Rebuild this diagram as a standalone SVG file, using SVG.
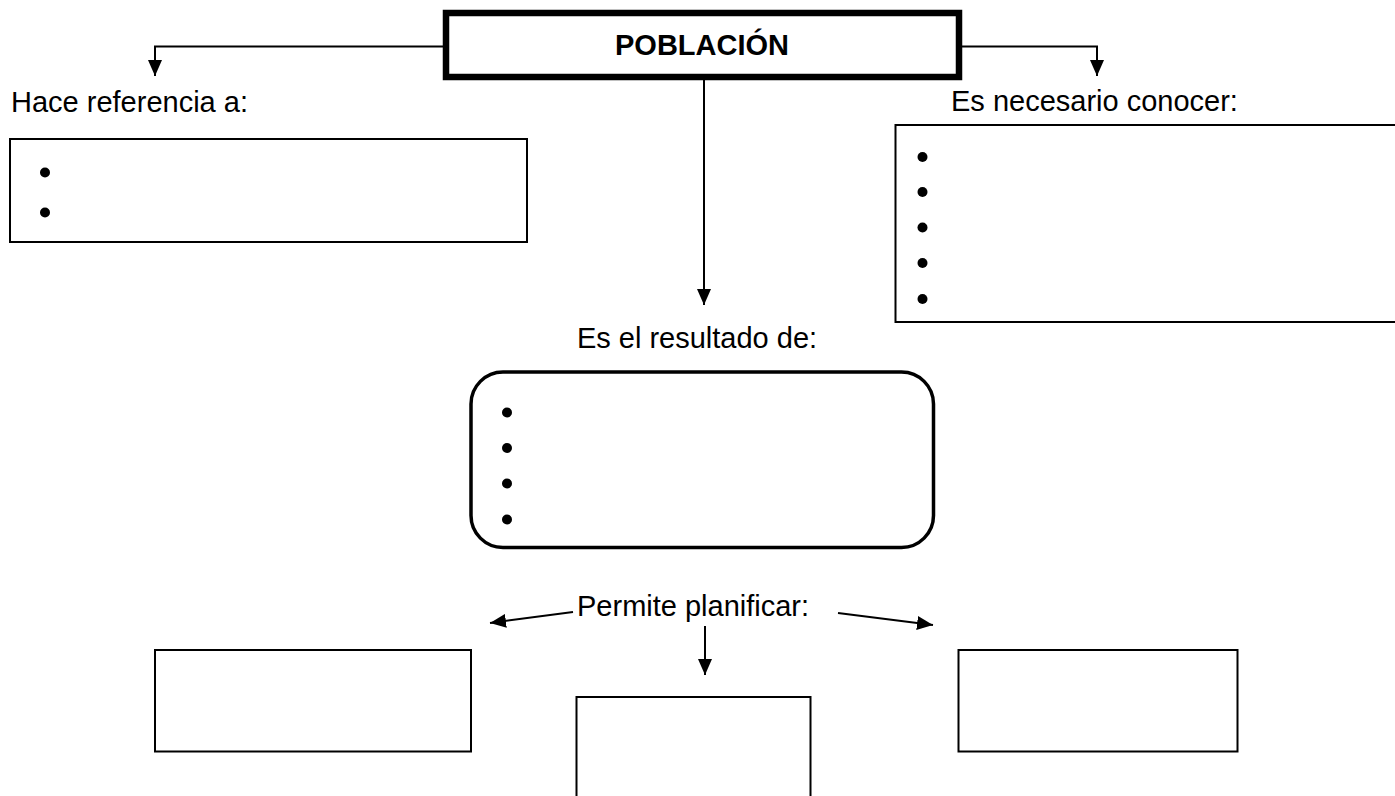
<svg xmlns="http://www.w3.org/2000/svg" width="1395" height="796" viewBox="0 0 1395 796">
<style>
.t{font-family:"Liberation Sans",Arial,sans-serif;font-size:29px;fill:#000}
.b{font-weight:bold}
.box{fill:#fff;stroke:#000;stroke-width:2}
.con{fill:none;stroke:#000;stroke-width:2}
</style>
<defs>
<marker id="ah" viewBox="0 0 16 14" refX="16" refY="7" markerWidth="16" markerHeight="14" markerUnits="userSpaceOnUse" orient="auto">
<path d="M0,0 L16,7 L0,14 z" fill="#000"/>
</marker>
</defs>
<rect width="1395" height="796" fill="#fff"/>
<g id="connectors">
<path class="con" d="M443,46.5 H155 V76" marker-end="url(#ah)"/>
<path class="con" d="M961,46.5 H1097 V76" marker-end="url(#ah)"/>
<path class="con" d="M704,79 V305" marker-end="url(#ah)"/>
<path class="con" d="M573,612 L490,623" marker-end="url(#ah)"/>
<path class="con" d="M838,613 L933,625" marker-end="url(#ah)"/>
<path class="con" d="M705,626 V675" marker-end="url(#ah)"/>
</g>
<g id="poblacion">
<rect x="446" y="13" width="513" height="64" fill="#fff" stroke="#000" stroke-width="6.5"/>
<text class="t b" x="702" y="55" text-anchor="middle">POBLACIÓN</text>
</g>
<g id="hace-referencia">
<text class="t" x="11" y="112">Hace referencia a:</text>
<rect class="box" x="10" y="139" width="517" height="103"/>
<circle cx="45" cy="172.5" r="5"/>
<circle cx="45" cy="212.5" r="5"/>
</g>
<g id="es-necesario">
<text class="t" x="951" y="111">Es necesario conocer:</text>
<rect class="box" x="895.5" y="125" width="502" height="197"/>
<circle cx="922.5" cy="157" r="5"/>
<circle cx="922.5" cy="192" r="5"/>
<circle cx="922.5" cy="227.5" r="5"/>
<circle cx="922.5" cy="263" r="5"/>
<circle cx="922.5" cy="299" r="5"/>
</g>
<g id="resultado">
<text class="t" x="697" y="348" text-anchor="middle">Es el resultado de:</text>
<rect x="471" y="372" width="462.5" height="175.5" rx="32" ry="32" fill="#fff" stroke="#000" stroke-width="3.5"/>
<circle cx="507" cy="412.5" r="5"/>
<circle cx="507" cy="448" r="5"/>
<circle cx="507" cy="483.5" r="5"/>
<circle cx="507" cy="519.5" r="5"/>
</g>
<g id="permite">
<text class="t" x="577" y="616">Permite planificar:</text>
</g>
<g id="box-left">
<rect class="box" x="155" y="650" width="316" height="101.5"/>
</g>
<g id="box-middle">
<rect class="box" x="576.5" y="697" width="234" height="110"/>
</g>
<g id="box-right">
<rect class="box" x="958.5" y="650" width="279" height="101.5"/>
</g>
</svg>
